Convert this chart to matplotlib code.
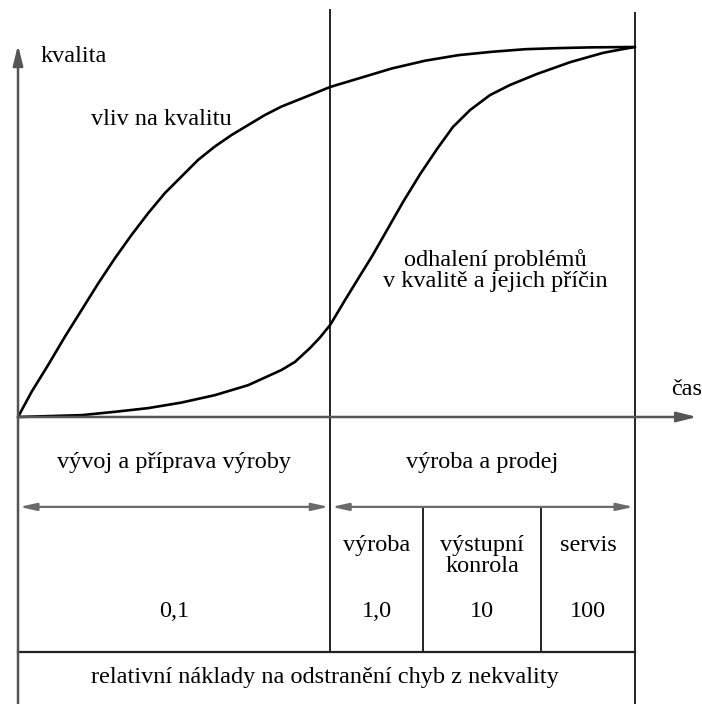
import matplotlib.pyplot as plt

plt.rcParams['font.family'] = ['Liberation Serif', 'DejaVu Serif']

# time runs 0 (start of development) .. 1 (end of service), quality 0 .. 1
t_impact = [0, 0.022, 0.049, 0.076, 0.103, 0.130, 0.157, 0.184, 0.211, 0.238,
            0.265, 0.292, 0.319, 0.346, 0.373, 0.400, 0.427, 0.454, 0.481, 0.506,
            0.552, 0.606, 0.660, 0.714, 0.768, 0.822, 0.876, 0.930, 1.0]
q_impact = [0, 0.068, 0.141, 0.217, 0.289, 0.361, 0.429, 0.492, 0.551, 0.605,
            0.650, 0.695, 0.731, 0.762, 0.789, 0.816, 0.839, 0.857, 0.875, 0.892,
            0.915, 0.942, 0.963, 0.978, 0.987, 0.994, 0.997, 0.999, 1.0]

t_detect = [0, 0.103, 0.157, 0.211, 0.265, 0.319, 0.373, 0.427, 0.449, 0.473,
            0.489, 0.506, 0.530, 0.551, 0.574, 0.598, 0.624, 0.652, 0.679, 0.705,
            0.733, 0.765, 0.797, 0.841, 0.895, 0.948, 0.976, 1.0]
q_detect = [0, 0.005, 0.014, 0.024, 0.039, 0.059, 0.086, 0.127, 0.149, 0.186,
            0.214, 0.249, 0.316, 0.373, 0.435, 0.505, 0.581, 0.657, 0.724, 0.784,
            0.830, 0.870, 0.897, 0.927, 0.959, 0.984, 0.993, 1.0]

phases = ["vývoj a příprava výroby", "výroba a prodej"]
phase_edges = [0, 0.506, 1.0]
stages = ["výroba", "výstupní\nkonrola", "servis"]
stage_edges = [0.506, 0.657, 0.848, 1.0]
costs = ["0,1", "1,0", "10", "100"]
cost_edges = [0, 0.506, 0.657, 0.848, 1.0]
cost_caption = "relativní náklady na odstranění chyb z nekvality"

fig = plt.figure(figsize=(7.02, 7.04), dpi=100)
ax = fig.add_axes([0, 0, 1, 1])
ax.set_xlim(-0.0292, 1.1086)
ax.set_ylim(-0.7757, 1.127)
ax.axis('off')

fs = 17.5
axis_col = '#555555'
line_col = '#222222'

# axes with arrows
ax.annotate('', xy=(0, 1.005), xytext=(0, -0.776),
            arrowprops=dict(arrowstyle='-|>,head_length=1.2,head_width=0.3',
                            color=axis_col, lw=1.8, shrinkA=0, shrinkB=0))
ax.annotate('', xy=(1.1005, 0), xytext=(0, 0),
            arrowprops=dict(arrowstyle='-|>,head_length=1.2,head_width=0.3',
                            color=axis_col, lw=1.8, shrinkA=0, shrinkB=0))
ax.text(0.036, 0.973, "kvalita", fontsize=fs, ha='left', va='center')
ax.text(1.083, 0.073, "čas", fontsize=fs, ha='center', va='center')

# phase borders
ax.plot([phase_edges[1]] * 2, [1.10, -0.635], color=line_col, lw=1.4)
ax.plot([phase_edges[2]] * 2, [1.092, -0.776], color=line_col, lw=1.4)
ax.plot([0, 1.0], [-0.635, -0.635], color=line_col, lw=1.6)
for x in stage_edges[1:-1]:
    ax.plot([x, x], [-0.243, -0.635], color=line_col, lw=1.4)

# curves
ax.plot(t_impact, q_impact, color='black', lw=1.9, solid_capstyle='round',
        solid_joinstyle='round')
ax.plot(t_detect, q_detect, color='black', lw=1.9, solid_capstyle='round',
        solid_joinstyle='round')
ax.text(0.233, 0.803, "vliv na kvalitu", fontsize=fs, ha='center', va='center')
ax.text(0.773, 0.424, "odhalení problémů", fontsize=fs, ha='center', va='center')
ax.text(0.773, 0.365, "v kvalitě a jejich příčin", fontsize=fs, ha='center', va='center')

# phase names and span arrows
for i, name in enumerate(phases):
    a, b = phase_edges[i], phase_edges[i + 1]
    ax.text((a + b) / 2, -0.124, name, fontsize=fs, ha='center', va='center')
    ax.annotate('', xy=(b, -0.243), xytext=(a, -0.243),
                arrowprops=dict(arrowstyle='<|-|>,head_length=1.0,head_width=0.22',
                                color='#6a6a6a', lw=1.6, shrinkA=1, shrinkB=1))

for i, name in enumerate(stages):
    xc = (stage_edges[i] + stage_edges[i + 1]) / 2
    for j, part in enumerate(name.split('\n')):
        ax.text(xc, -0.346 - 0.059 * j, part, fontsize=fs, ha='center', va='center')

for i, val in enumerate(costs):
    xc = (cost_edges[i] + cost_edges[i + 1]) / 2
    ax.text(xc, -0.527, val, fontsize=fs, ha='center', va='center')

ax.text(0.4976, -0.705, cost_caption, fontsize=fs, ha='center', va='center')

fig.savefig('out.png', dpi=100, facecolor='white')
